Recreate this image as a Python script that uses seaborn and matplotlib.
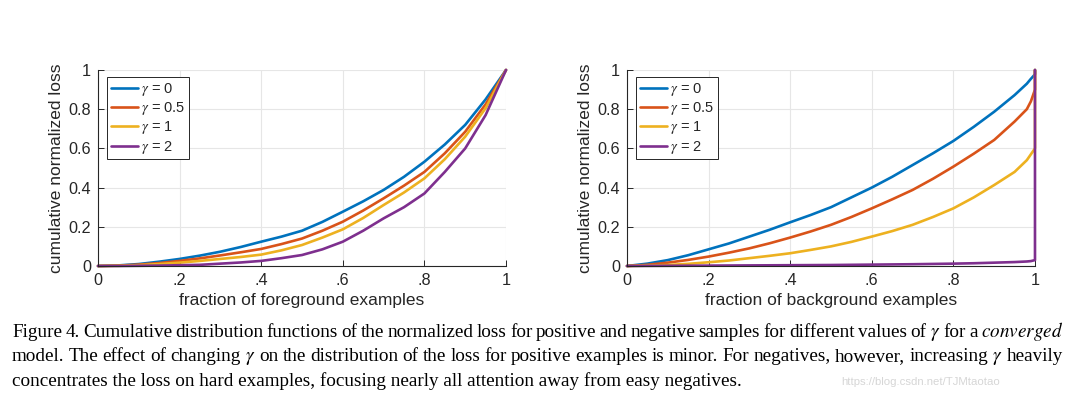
"""
    Cumulative loss distributions for different gamma values
"""
import seaborn as sns
import pandas as pd
import matplotlib.pyplot as plt

# foreground (positive) examples
fg_x = [0, .05, .1, .15, .2, .25, .3, .35, .4, .45, .5,
        .55, .6, .65, .7, .75, .8, .85, .9, .95, 1.0]
fg_g0 = [0, .003, .01, .022, .036, .053, .073, .097, .124, .15, .18,
         .225, .277, .33, .388, .455, .532, .62, .72, .85, 1.0]
fg_g05 = [0, .002, .007, .015, .026, .039, .054, .07, .087, .112, .14,
          .18, .226, .283, .345, .41, .48, .575, .685, .825, 1.0]
fg_g1 = [0, .001, .004, .01, .017, .026, .036, .046, .058, .08, .107,
         .145, .187, .245, .311, .375, .447, .545, .66, .805, 1.0]
fg_g2 = [0, 0, .001, .002, .004, .006, .012, .018, .026, .04, .056,
         .085, .124, .18, .243, .30, .37, .48, .60, .77, 1.0]

# background (negative) examples
bg_x = [0, .05, .1, .15, .2, .25, .3, .35, .4, .45, .5, .55,
        .6, .65, .7, .75, .8, .85, .9, .95, .98, .99, 1.0, 1.0]
bg_g0 = [0, .012, .03, .055, .085, .115, .15, .185, .223, .26, .30, .35,
         .40, .455, .515, .575, .638, .71, .787, .872, .93, .955, .978, 1.0]
bg_g05 = [0, .006, .017, .031, .048, .068, .09, .116, .145, .176, .21, .25,
          .294, .34, .388, .445, .507, .573, .643, .737, .80, .84, .90, 1.0]
bg_g1 = [0, .002, .005, .011, .019, .028, .04, .052, .065, .082, .10, .123,
         .15, .178, .21, .25, .294, .35, .413, .48, .54, .57, .60, 1.0]
bg_g2 = [0, .0005, .001, .0015, .002, .0025, .003, .0035, .004, .0045, .005, .006,
         .007, .008, .009, .0105, .012, .014, .017, .02, .023, .025, .03, 1.0]

gammas = ['0', '0.5', '1', '2']
colors = ['#0072BD', '#D95319', '#EDB120', '#7E2F8E']
x_ticks = [0, .2, .4, .6, .8, 1]
x_tick_labels = ['0', '.2', '.4', '.6', '.8', '1']
y_ticks = [0, .2, .4, .6, .8, 1]
y_tick_labels = ['0', '0.2', '0.4', '0.6', '0.8', '1']

caption = [
    r'Figure 4. Cumulative distribution functions of the normalized loss for positive and negative samples for different values of $\gamma$ for a $\mathit{converged}$',
    r'model. The effect of changing $\gamma$ on the distribution of the loss for positive examples is minor. For negatives, however, increasing $\gamma$ heavily',
    r'concentrates the loss on hard examples, focusing nearly all attention away from easy negatives.',
]


def make_frame(x, series):
    rows = []
    for g, ys in zip(gammas, series):
        for xv, yv in zip(x, ys):
            rows.append({'x': xv, 'y': yv, 'gamma': r'$\gamma$ = ' + g})
    return pd.DataFrame(rows)


def draw(ax, df, xlabel):
    sns.lineplot(data=df, x='x', y='y', hue='gamma', palette=colors,
                 estimator=None, sort=False, linewidth=1.9, ax=ax)
    for line in ax.lines:
        line.set_clip_on(False)
    ax.set_xlim(0, 1)
    ax.set_ylim(0, 1)
    ax.set_xticks(x_ticks, x_tick_labels)
    ax.set_yticks(y_ticks, y_tick_labels)
    ax.set_xlabel(xlabel, fontsize=12.5, labelpad=4)
    ax.set_ylabel('cumulative normalized loss', fontsize=12.5, labelpad=3)
    ax.tick_params(direction='in', length=4, width=0.7, labelsize=11.7,
                   colors='#262626', pad=5, left=True, bottom=True)
    ax.grid(True, color='#e6e6e6', linewidth=0.8)
    for side in ['top', 'right']:
        ax.spines[side].set_visible(False)
    for side in ['left', 'bottom']:
        ax.spines[side].set_color('#262626')
        ax.spines[side].set_linewidth(0.8)
    handles, labels = ax.get_legend_handles_labels()
    leg = ax.legend(handles, labels, loc='upper left', bbox_to_anchor=(0.022, 0.962),
                    fontsize=10.5, frameon=True, fancybox=False, framealpha=1,
                    edgecolor='#262626', borderpad=0.25, labelspacing=0.15,
                    handlelength=1.9, handletextpad=0.2, borderaxespad=0)
    leg.get_frame().set_linewidth(0.7)


def justify(fig, text, y, x0, x1, **kw):
    words = text.split()
    renderer = fig.canvas.get_renderer()
    arts = [fig.text(0, y, w, va='baseline', **kw) for w in words]
    widths = [a.get_window_extent(renderer).width for a in arts]
    gap = (x1 - x0 - sum(widths)) / (len(words) - 1)
    x = x0
    for a, w in zip(arts, widths):
        a.set_x(x / fig.bbox.width)
        x += w + gap


sns.set_style('whitegrid')
plt.rcParams['font.family'] = ['Liberation Sans', 'DejaVu Sans']
plt.rcParams['mathtext.fontset'] = 'stix'

fig = plt.figure(figsize=(10.78, 3.95), dpi=100)
ax1 = fig.add_axes([0.0909, 0.3266, 0.3785, 0.4962])
ax2 = fig.add_axes([0.5816, 0.3266, 0.3785, 0.4962])

draw(ax1, make_frame(fg_x, [fg_g0, fg_g05, fg_g1, fg_g2]), 'fraction of foreground examples')
draw(ax2, make_frame(bg_x, [bg_g0, bg_g05, bg_g1, bg_g2]), 'fraction of background examples')

cap_kw = dict(family='Liberation Serif', fontsize=13.8, color='black')
justify(fig, caption[0], 0.146, 12, 1063, **cap_kw)
justify(fig, caption[1], 0.085, 12, 1063, **cap_kw)
fig.text(12 / 1078, 0.024, caption[2], va='baseline', **cap_kw)
fig.text(841 / 1078, 0.026, 'https://blog.csdn.net/TJMtaotao', fontsize=8.2,
         color='#d6d6d6', va='baseline')

fig.savefig('out.png', dpi=100)
